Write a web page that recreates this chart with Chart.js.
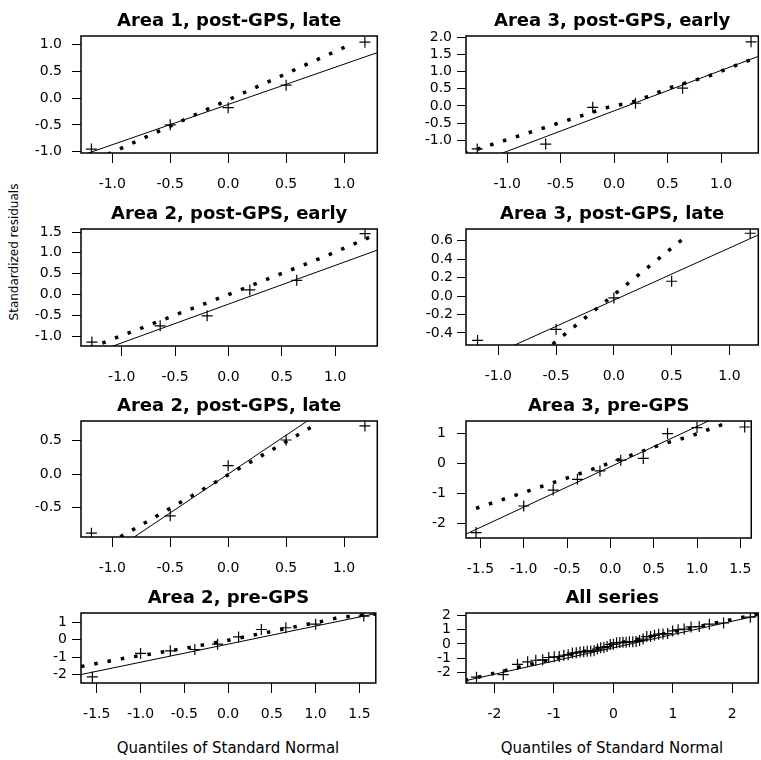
<!DOCTYPE html>
<html>
<head>
<meta charset="utf-8">
<script src="https://cdn.jsdelivr.net/npm/chart.js@4.4.1/dist/chart.umd.min.js"></script>
<style>
    body { margin: 0; background: #fff; width: 761px; height: 760px; overflow: hidden; position: relative; }
    canvas { position: absolute; }
    .axlab { position: absolute; font-family: "DejaVu Sans", sans-serif; color: #000; white-space: nowrap;
             transform: translate(-50%, -50%); }
</style>
</head>
<body>
<div class="axlab" style="left:14px;top:252px;font-size:12px;transform:translate(-50%,-50%) rotate(-90deg)">Standardized residuals</div>
<div class="axlab" style="left:228px;top:748px;font-size:15px">Quantiles of Standard Normal</div>
<div class="axlab" style="left:612px;top:748px;font-size:15px">Quantiles of Standard Normal</div>
<script>
    // quantiles for n = 5, 6 and 10 series
    var q5 = [-1.18, -0.50, 0.00, 0.50, 1.18];
    var q6 = [-1.28, -0.64, -0.20, 0.20, 0.64, 1.28];
    var q10 = [-1.55, -1.00, -0.66, -0.38, -0.12, 0.12, 0.38, 0.66, 1.00, 1.55];
    var q47 = [-2.303, -1.853, -1.614, -1.443, -1.306, -1.190, -1.088, -0.996, -0.912, -0.834,
        -0.761, -0.691, -0.625, -0.561, -0.500, -0.440, -0.382, -0.325, -0.269, -0.214,
        -0.160, -0.107, -0.053, 0.000, 0.053, 0.107, 0.160, 0.214, 0.269, 0.325,
        0.382, 0.440, 0.500, 0.561, 0.625, 0.691, 0.761, 0.834, 0.912, 0.996,
        1.088, 1.190, 1.306, 1.443, 1.614, 1.853, 2.303];

    // standardized residuals
    var a1LateRes = [-0.95, -0.50, -0.18, 0.24, 1.04];
    var a3EarlyRes = [-1.25, -1.11, -0.04, 0.08, 0.52, 1.87];
    var a2EarlyRes = [-1.14, -0.75, -0.51, 0.11, 0.34, 1.46];
    var a3LateRes = [-0.48, -0.36, -0.02, 0.16, 0.68];
    var a2LateRes = [-0.885, -0.625, 0.125, 0.51, 0.72];
    var a3PreRes = [-2.32, -1.43, -0.90, -0.54, -0.26, 0.10, 0.16, 0.99, 1.19, 1.21];
    var a2PreRes = [-2.15, -0.79, -0.64, -0.56, -0.25, 0.17, 0.60, 0.70, 0.91, 1.38];
    var allRes = [-2.32, -2.15, -1.43, -1.25, -1.14, -1.11, -0.95, -0.90, -0.885, -0.79,
        -0.75, -0.64, -0.625, -0.56, -0.54, -0.51, -0.50, -0.48, -0.36, -0.26,
        -0.25, -0.18, -0.04, -0.02, 0.08, 0.10, 0.11, 0.125, 0.16, 0.16,
        0.17, 0.24, 0.34, 0.51, 0.52, 0.60, 0.68, 0.70, 0.72, 0.91,
        0.99, 1.04, 1.19, 1.21, 1.38, 1.46, 1.87];

    // reference lines (solid), end points
    var a1LateLineX = [-1.3, 1.3], a1LateLineY = [-1.095, 0.855];
    var a3EarlyLineX = [-1.4, 1.36], a3EarlyLineY = [-1.79, 1.46];
    var a2EarlyLineX = [-1.4, 1.4], a2EarlyLineY = [-1.53, 1.07];
    var a3LateLineX = [-1.3, 1.3], a3LateLineY = [-0.78, 0.69];
    var a2LateLineX = [-1.3, 1.3], a2LateLineY = [-1.51, 1.51];
    var a3PreLineX = [-1.7, 1.7], a3PreLineY = [-2.415, 2.175];
    var a2PreLineX = [-1.7, 1.7], a2PreLineY = [-2.035, 1.535];
    var allLineX = [-2.5, 2.45], allLineY = [-2.58, 2.0];

    // dotted curves
    var a1LateDotX = [-1.04, 1.08], a1LateDotY = [-1.05, 1.02];
    var a3EarlyDotX = [-1.4, -0.06, 0.19, 0.53, 0.89, 1.36], a3EarlyDotY = [-1.38, -0.04, 0.13, 0.54, 0.88, 1.45];
    var a2EarlyDotX = [-1.3, 0.0, 0.91, 1.4], a2EarlyDotY = [-1.28, 0.0, 0.92, 1.46];
    var a3LateDotX = [-0.53, 0.65], a3LateDotY = [-0.52, 0.67];
    var a2LateDotX = [-0.93, 0.72], a2LateDotY = [-0.94, 0.705];
    var a3PreDotX = [-1.55, -0.4, 0.6, 0.9, 1.32], a3PreDotY = [-1.51, -0.4, 0.64, 0.88, 1.32];
    var a2PreDotX = [-1.68, -1.2, -0.5, 0.0, 1.1, 1.25, 1.55, 1.69], a2PreDotY = [-1.55, -1.08, -0.5, -0.02, 1.1, 1.28, 1.44, 1.5];
    var allDotX = [-2.5, 0.0, 2.45], allDotY = [-2.55, -0.02, 2.1];

    // tick labels
    var ticksHalf = [-1.0, -0.5, 0.0, 0.5, 1.0];
    var ticksWide = [-1.5, -1.0, -0.5, 0.0, 0.5, 1.0, 1.5];
    var ticksAll = [-2, -1, 0, 1, 2];
    var yTicksA1Late = [-1.0, -0.5, 0.0, 0.5, 1.0];
    var yTicksA3Early = [-1.0, -0.5, 0.0, 0.5, 1.0, 1.5, 2.0];
    var yTicksA2Early = [-1.0, -0.5, 0.0, 0.5, 1.0, 1.5];
    var yTicksA3Late = [-0.4, -0.2, 0.0, 0.2, 0.4, 0.6];
    var yTicksA2Late = [-0.5, 0.0, 0.5];
    var yTicksPre = [-2, -1, 0, 1];
    var yTicksAll = [-2, -1, 0, 1, 2];

    Chart.defaults.font.family = '"DejaVu Sans", sans-serif';
    Chart.defaults.font.size = 14;
    Chart.defaults.color = '#000';

    var framePlugin = {
        id: 'frame',
        afterDraw: function (chart) {
            var a = chart.chartArea, ctx = chart.ctx;
            ctx.save();
            ctx.strokeStyle = '#000';
            ctx.lineWidth = 1.5;
            ctx.strokeRect(a.left, a.top, a.right - a.left, a.bottom - a.top);
            ctx.restore();
        }
    };

    function zip(xs, ys) {
        var pts = [];
        for (var i = 0; i < xs.length; i++) {
            pts.push({x: xs[i], y: ys[i]});
        }
        return pts;
    }

    function buildPanel(p) {
        var left = p.box[0], top = p.box[1], right = p.box[2], bottom = p.box[3];
        var canvas = document.createElement('canvas');
        var w = right - left + 81 + 3, h = bottom - top + 36 + 48;
        canvas.width = w;
        canvas.height = h;
        canvas.style.left = (left - 81) + 'px';
        canvas.style.top = (top - 36) + 'px';
        canvas.style.width = w + 'px';
        canvas.style.height = h + 'px';
        document.body.appendChild(canvas);

        return new Chart(canvas.getContext('2d'), {
            type: 'scatter',
            data: {
                datasets: [{
                    data: zip(p.qx, p.res),
                    pointStyle: 'cross',
                    pointRadius: 5.5,
                    borderWidth: 1.2,
                    borderColor: '#000',
                    showLine: false
                }, {
                    data: zip(p.lineX, p.lineY),
                    showLine: true,
                    borderColor: '#000',
                    borderWidth: 1,
                    pointRadius: 0,
                    clip: 0
                }, {
                    data: zip(p.dotX, p.dotY),
                    showLine: true,
                    borderColor: '#000',
                    borderWidth: 3.5,
                    borderDash: [3.5, 10],
                    borderCapStyle: 'butt',
                    pointRadius: 0,
                    clip: 0
                }]
            },
            options: {
                responsive: false,
                animation: false,
                devicePixelRatio: 1,
                layout: {padding: {top: 0, left: 0, right: 3, bottom: 0}},
                plugins: {
                    legend: {display: false},
                    tooltip: {enabled: false},
                    title: {
                        display: true,
                        text: p.title,
                        fullSize: false,
                        color: '#000',
                        font: {size: 18, weight: 'bold'},
                        padding: {top: 11, bottom: 3.4}
                    }
                },
                scales: {
                    x: {
                        type: 'linear',
                        min: p.xr[0],
                        max: p.xr[1],
                        border: {display: false},
                        grid: {drawOnChartArea: false, tickLength: 10, tickColor: '#000', lineWidth: 1},
                        ticks: {
                            padding: 13, autoSkip: false, maxRotation: 0,
                            callback: function (v) { return v.toFixed(p.xd); }
                        },
                        afterBuildTicks: function (s) { s.ticks = p.xt.map(function (v) { return {value: v}; }); },
                        afterFit: function (s) { s.height = 48; }
                    },
                    y: {
                        type: 'linear',
                        min: p.yr[0],
                        max: p.yr[1],
                        border: {display: false},
                        grid: {drawOnChartArea: false, tickLength: 9, tickColor: '#000', lineWidth: 1},
                        ticks: {
                            padding: p.ypad, autoSkip: false,
                            callback: function (v) { return v.toFixed(p.yd); }
                        },
                        afterBuildTicks: function (s) { s.ticks = p.yt.map(function (v) { return {value: v}; }); },
                        afterFit: function (s) { s.width = 81; }
                    }
                }
            },
            plugins: [framePlugin]
        });
    }

    var panels = [
        {title: 'Area 1, post-GPS, late', box: [81, 36, 381, 153], xr: [-1.270, 1.287], yr: [-1.024, 1.155],
            xt: ticksHalf, yt: yTicksA1Late, xd: 1, yd: 1, ypad: 10,
            qx: q5, res: a1LateRes, lineX: a1LateLineX, lineY: a1LateLineY, dotX: a1LateDotX, dotY: a1LateDotY},
        {title: 'Area 3, post-GPS, early', box: [466, 36, 762, 153], xr: [-1.385, 1.348], yr: [-1.37, 2.04],
            xt: ticksHalf, yt: yTicksA3Early, xd: 1, yd: 1, ypad: 5,
            qx: q6, res: a3EarlyRes, lineX: a3EarlyLineX, lineY: a3EarlyLineY, dotX: a3EarlyDotX, dotY: a3EarlyDotY},
        {title: 'Area 2, post-GPS, early', box: [81, 229, 381, 346], xr: [-1.382, 1.395], yr: [-1.234, 1.572],
            xt: ticksHalf, yt: yTicksA2Early, xd: 1, yd: 1, ypad: 10,
            qx: q6, res: a2EarlyRes, lineX: a2EarlyLineX, lineY: a2EarlyLineY, dotX: a2EarlyDotX, dotY: a2EarlyDotY},
        {title: 'Area 3, post-GPS, late', box: [466, 229, 762, 345], xr: [-1.28, 1.25], yr: [-0.53, 0.726],
            xt: ticksHalf, yt: yTicksA3Late, xd: 1, yd: 1, ypad: 4,
            qx: q5, res: a3LateRes, lineX: a3LateLineX, lineY: a3LateLineY, dotX: a3LateDotX, dotY: a3LateDotY},
        {title: 'Area 2, post-GPS, late', box: [81, 421, 381, 537], xr: [-1.270, 1.287], yr: [-0.942, 0.794],
            xt: ticksHalf, yt: yTicksA2Late, xd: 1, yd: 1, ypad: 10,
            qx: q5, res: a2LateRes, lineX: a2LateLineX, lineY: a2LateLineY, dotX: a2LateDotX, dotY: a2LateDotY},
        {title: 'Area 3, pre-GPS', box: [466, 421, 762, 538], xr: [-1.666, 1.626], yr: [-2.5, 1.41],
            xt: ticksWide, yt: yTicksPre, xd: 1, yd: 0, ypad: 11,
            qx: q10, res: a3PreRes, lineX: a3PreLineX, lineY: a3PreLineY, dotX: a3PreDotX, dotY: a3PreDotY},
        {title: 'Area 2, pre-GPS', box: [81, 613, 381, 683], xr: [-1.68, 1.687], yr: [-2.505, 1.557],
            xt: ticksWide, yt: yTicksPre, xd: 1, yd: 0, ypad: 5,
            qx: q10, res: a2PreRes, lineX: a2PreLineX, lineY: a2PreLineY, dotX: a2PreDotX, dotY: a2PreDotY},
        {title: 'All series', box: [466, 613, 762, 683], xr: [-2.48, 2.437], yr: [-2.73, 2.16],
            xt: ticksAll, yt: yTicksAll, xd: 0, yd: 0, ypad: 6,
            qx: q47, res: allRes, lineX: allLineX, lineY: allLineY, dotX: allDotX, dotY: allDotY}
    ];

    for (var i = 0; i < panels.length; i++) {
        buildPanel(panels[i]);
    }
</script>
</body>
</html>
